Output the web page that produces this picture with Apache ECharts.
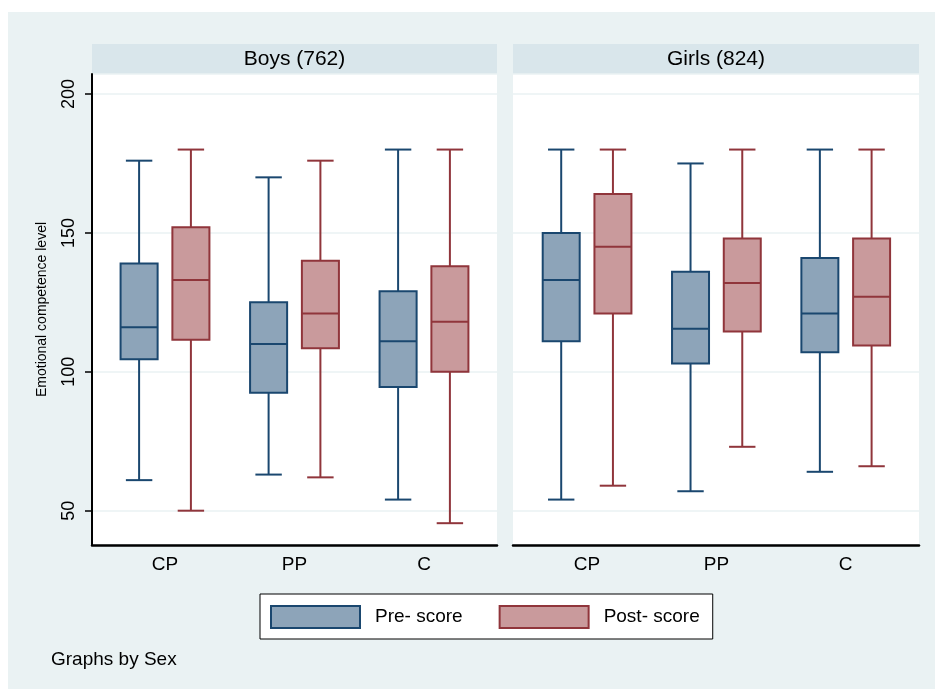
<!DOCTYPE html>
<html>
<head>
<meta charset="utf-8">
<title>Emotional competence by sex</title>
<script src="https://cdn.jsdelivr.net/npm/echarts@6/dist/echarts.min.js"></script>
<style>
  html, body { margin: 0; padding: 0; background: #ffffff; }
  #chart { width: 935px; height: 689px; }
</style>
</head>
<body>
<div id="chart"></div>
<script>
// Groups on the x axis
const categories = ['CP', 'PP', 'C'];
// Panel headers
const panelTitles = ['Boys (762)', 'Girls (824)'];
// Box statistics per group: [lower whisker, Q1, median, Q3, upper whisker]
const boysPre   = [[61, 104.5, 116, 139, 176], [63, 92.5, 110, 125, 170], [54, 94.5, 111, 129, 180]];
const boysPost  = [[50, 111.5, 133, 152, 180], [62, 108.5, 121, 140, 176], [45.5, 100, 118, 138, 180]];
const girlsPre  = [[54, 111, 133, 150, 180], [57, 103, 115.5, 136, 175], [64, 107, 121, 141, 180]];
const girlsPost = [[59, 121, 145, 164, 180], [73, 114.5, 132, 148, 180], [66, 109.5, 127, 148, 180]];
// Y axis range
const yMin = 37.65;
const yMax = 207.2;

const FONT = '"Liberation Sans", Arial, sans-serif';
const PRE = { fill: '#8DA4B9', stroke: '#1A476F' };
const POST = { fill: '#C99A9C', stroke: '#90353B' };

function withIndex(rows) {
  return rows.map((r, i) => [i].concat(r));
}

// Draws one Stata-style box with whiskers and caps, offset within its category band
function boxRenderer(offset, colors) {
  return function (params, api) {
    const cat = api.value(0);
    const band = api.size([1, 0])[0];
    const cx = api.coord([cat, api.value(3)])[0] + offset * band;
    const y = (k) => api.coord([cat, api.value(k)])[1];
    const lo = y(1), q1 = y(2), med = y(3), q3 = y(4), hi = y(5);
    const bw = 0.286 * band;
    const cw = 0.204 * band;
    const line = { stroke: colors.stroke, lineWidth: 2 };
    return {
      type: 'group',
      children: [
        { type: 'line', shape: { x1: cx, y1: q3, x2: cx, y2: hi }, style: line },
        { type: 'line', shape: { x1: cx, y1: q1, x2: cx, y2: lo }, style: line },
        { type: 'line', shape: { x1: cx - cw / 2, y1: hi, x2: cx + cw / 2, y2: hi }, style: line },
        { type: 'line', shape: { x1: cx - cw / 2, y1: lo, x2: cx + cw / 2, y2: lo }, style: line },
        { type: 'rect', shape: { x: cx - bw / 2, y: q3, width: bw, height: q1 - q3 },
          style: { fill: colors.fill, stroke: colors.stroke, lineWidth: 2 } },
        { type: 'line', shape: { x1: cx - bw / 2, y1: med, x2: cx + bw / 2, y2: med }, style: line }
      ]
    };
  };
}

function boxSeries(name, rows, axisIndex, offset, colors) {
  return {
    name: name,
    type: 'custom',
    xAxisIndex: axisIndex,
    yAxisIndex: axisIndex,
    itemStyle: { color: colors.fill, borderColor: colors.stroke, borderWidth: 2 },
    encode: { x: 0, y: [1, 2, 3, 4, 5] },
    data: withIndex(rows),
    renderItem: boxRenderer(offset, colors),
    z: 5
  };
}

const chart = echarts.init(document.getElementById('chart'), null, { renderer: 'canvas' });

const frameY = (showLabels) => ({
  type: 'value',
  min: yMin,
  max: yMax,
  splitNumber: 4,
  axisLine: { show: showLabels, lineStyle: { color: '#000', width: 2 } },
  axisTick: { show: showLabels, length: 7, lineStyle: { color: '#000', width: 1.5 } },
  axisLabel: {
    show: showLabels, rotate: 90, margin: 14, fontSize: 18, fontFamily: FONT, color: '#000',
    showMinLabel: false, showMaxLabel: false
  },
  splitLine: { show: true, lineStyle: { color: '#EAF2F3', width: 1.5 } },
  name: showLabels ? 'Emotional competence level' : '',
  nameLocation: 'middle',
  nameGap: 43,
  nameTextStyle: { fontSize: 14, fontFamily: FONT, color: '#000' }
});

const frameX = (gridIndex) => ({
  type: 'value', gridIndex: gridIndex, min: 0, max: 1,
  axisLine: { show: true, lineStyle: { color: '#000', width: 2.5 } },
  axisTick: { show: false }, axisLabel: { show: false }, splitLine: { show: false }
});

const dataX = (gridIndex) => ({
  type: 'category', gridIndex: gridIndex, data: categories,
  axisLine: { show: false }, axisTick: { show: false }, splitLine: { show: false },
  axisLabel: { margin: 10, fontSize: 19, fontFamily: FONT, color: '#000' }
});

const dataY = (gridIndex) => ({
  type: 'value', gridIndex: gridIndex, min: yMin, max: yMax,
  axisLine: { show: false }, axisTick: { show: false },
  axisLabel: { show: false }, splitLine: { show: false }
});

function stripHeader(x, w, text) {
  return {
    type: 'group',
    children: [
      { type: 'rect', shape: { x: x, y: 44, width: w, height: 30 }, style: { fill: '#D9E6EB' } },
      { type: 'text', x: x + w / 2, y: 59,
        style: { text: text, fill: '#000', font: '21px ' + FONT, textAlign: 'center', textVerticalAlign: 'middle' } }
    ]
  };
}

const option = {
  backgroundColor: '#EAF2F3',
  animation: false,
  grid: [
    { left: 92, top: 74, width: 405, height: 471, show: true, backgroundColor: '#ffffff', borderWidth: 0 },
    { left: 513, top: 74, width: 406, height: 471, show: true, backgroundColor: '#ffffff', borderWidth: 0 },
    { left: 100.25, top: 74, width: 388.5, height: 471 },
    { left: 522.4, top: 74, width: 388, height: 471 }
  ],
  xAxis: [frameX(0), frameX(1), dataX(2), dataX(3)],
  yAxis: [
    Object.assign(frameY(true), { gridIndex: 0 }),
    Object.assign(frameY(false), { gridIndex: 1 }),
    dataY(2),
    dataY(3)
  ],
  legend: {
    left: 260, top: 594,
    orient: 'horizontal',
    backgroundColor: '#ffffff',
    borderColor: '#000', borderWidth: 1,
    padding: [11, 13, 10, 10],
    itemWidth: 89, itemHeight: 22, itemGap: 36,
    selectedMode: false,
    textStyle: { fontSize: 19, fontFamily: FONT, color: '#000', padding: [0, 0, 0, 10] },
    data: [
      { name: 'Pre- score', icon: 'rect', itemStyle: { color: PRE.fill, borderColor: PRE.stroke, borderWidth: 2 } },
      { name: 'Post- score', icon: 'rect', itemStyle: { color: POST.fill, borderColor: POST.stroke, borderWidth: 2 } }
    ]
  },
  graphic: [
    { type: 'rect', shape: { x: 0, y: 0, width: 935, height: 12 }, style: { fill: '#ffffff' }, silent: true },
    { type: 'rect', shape: { x: 0, y: 0, width: 8, height: 689 }, style: { fill: '#ffffff' }, silent: true },
    stripHeader(92, 405, panelTitles[0]),
    stripHeader(513, 406, panelTitles[1]),
    { type: 'text', x: 51, y: 650,
      style: { text: 'Graphs by Sex', fill: '#000', font: '19px ' + FONT, textAlign: 'left', textVerticalAlign: 'top' } }
  ],
  series: [
    boxSeries('Pre- score', boysPre, 2, -0.2, PRE),
    boxSeries('Post- score', boysPost, 2, 0.2, POST),
    boxSeries('Pre- score', girlsPre, 3, -0.2, PRE),
    boxSeries('Post- score', girlsPost, 3, 0.2, POST)
  ]
};

chart.setOption(option);
</script>
</body>
</html>
